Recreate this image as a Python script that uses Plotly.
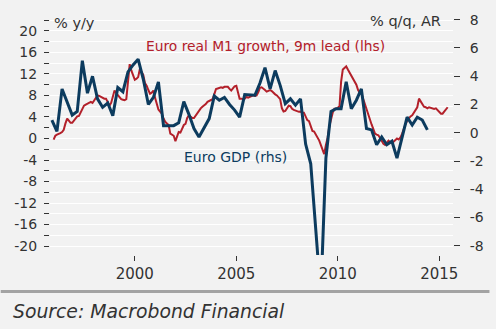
import plotly.graph_objects as go
import pandas as pd

# ---- Data ----
# Euro real M1 growth (% y/y, 9m lead), monthly from 1996-01 (left axis)
m1_start = "1996-01-01"
m1_values = [
    -0.2, 0.5, 0.7, 0.8, 1.0, 1.2, 1.6, 2.8, 3.7, 3.3, 2.9, 2.9,
    3.4, 3.8, 4.1, 4.2, 4.8, 5.3, 6.1, 6.3, 6.5, 6.7, 6.8, 6.6,
    7.1, 7.4, 8.0, 7.9, 7.7, 7.5, 7.4, 7.4, 6.8, 6.1, 6.6, 7.8,
    8.9, 8.4, 8.0, 7.6, 7.3, 7.2, 7.1, 7.3, 11.0, 13.8, 12.6, 11.6,
    10.9, 11.1, 11.4, 12.9, 12.4, 11.8, 10.3, 9.8, 9.0, 8.3, 8.5, 8.9,
    7.5, 6.3, 5.4, 5.0, 4.6, 3.7, 3.1, 2.8, 2.5, 0.9, 0.7, 0.5,
    -0.5, 0.6, 1.2, 1.1, 2.0, 2.5, 2.7, 3.8, 4.3, 4.1, 3.8, 3.8,
    4.3, 4.9, 5.1, 5.6, 5.9, 6.1, 6.4, 6.8, 7.0, 7.1, 7.3, 8.2,
    9.2, 9.3, 9.4, 9.5, 9.4, 9.6, 9.6, 9.6, 9.2, 8.9, 9.3, 9.7,
    9.8, 8.5, 7.4, 7.4, 7.3, 7.4, 7.7, 7.6, 7.7, 7.9, 8.0, 7.9,
    8.0, 8.6, 9.4, 9.5, 9.3, 9.0, 8.7, 8.8, 9.0, 8.8, 8.4, 8.2,
    8.0, 7.7, 7.3, 5.6, 5.0, 5.1, 5.6, 6.1, 6.0, 5.5, 5.3, 5.2,
    5.0, 4.95, 5.0, 4.8, 4.8, 4.2, 3.4, 3.2, 2.4, 1.4, 1.3, 0.8,
    0.1, -0.4, -1.2, -2.2, -2.9, -1.2, 0.1, 2.2, 3.6, 4.8, 5.5, 5.5,
    5.7, 6.0, 10.5, 12.8, 13.1, 13.4, 12.8, 12.2, 11.8, 11.0, 10.5, 10.0,
    9.0, 8.5, 8.4, 7.4, 6.5, 5.4, 4.5, 3.3, 2.6, 1.8, 0.9, 0.7,
    0.6, 0.1, -0.5, -1.0, -1.2, -0.8, -0.4, -0.7, -0.8, -0.6, -0.2, 0.0,
    -0.2, 0.2, 0.8, 1.8, 2.6, 3.3, 3.8, 4.1, 4.3, 4.8, 5.2, 5.8,
    7.4, 6.8, 6.3, 5.9, 5.8, 5.6, 5.8, 5.7, 5.7, 5.5, 5.6, 5.3,
    4.9, 4.6, 4.6, 5.0, 5.3, 5.8,
]

# Euro GDP (% q/q, annualised), quarterly from 1995Q4 (right axis)
gdp_start = "1995-12-01"
gdp_values = [
    0.9,
    0.1, 3.1, 2.2, 1.25,
    1.5, 5.1, 2.8, 4.0,
    2.4, 1.8, 2.1, 1.2,
    3.2, 2.9, 4.3, 4.8,
    5.2, 3.8, 2.0, 2.5,
    3.6, 0.5, 0.5, 0.5,
    0.7, 2.2, 1.3, 0.3,
    -0.3, 0.3, 1.0, 2.6,
    2.3, 2.5, 2.0, 1.6,
    1.1, 2.7, 2.7, 2.65,
    3.5, 4.6, 3.1, 4.4,
    3.35, 2.06, 2.4, 1.95,
    2.4, -0.8, -2.2, -7.0,
    -11.5, -1.8, 1.5, 1.7,
    1.7, 3.6, 1.7, 2.3,
    3.1, 0.3, 0.2, -0.85,
    -0.3, -0.85, -0.6, -1.8,
    -0.4, 1.1, 0.55, 1.1,
    0.9, 0.2,
]

left_ticks = [-20, -16, -12, -8, -4, 0, 4, 8, 12, 16, 20]
left_minor = [-18, -14, -10, -6, -2, 2, 6, 10, 14, 18, 22]
right_ticks = [-8, -6, -4, -2, 0, 2, 4, 6, 8]
x_ticks = ["2000-01-01", "2005-01-01", "2010-01-01", "2015-01-01"]
x_tick_text = ["2000", "2005", "2010", "2015"]

m1_dates = pd.date_range(m1_start, periods=len(m1_values), freq="MS")
gdp_dates = pd.date_range(gdp_start, periods=len(gdp_values), freq="3MS")

RED = "#b3202a"
BLUE = "#0c3b5e"
TXT = "#333333"
FONT = "DejaVu Sans"

fig = go.Figure()
fig.add_trace(go.Scatter(x=gdp_dates, y=gdp_values, yaxis="y2", mode="lines",
                         line=dict(color=BLUE, width=3), showlegend=False))
fig.add_trace(go.Scatter(x=m1_dates, y=m1_values, yaxis="y", mode="lines",
                         line=dict(color=RED, width=2), showlegend=False))

def lab(v):
    return str(v).replace("\u2212", "-")

fig.update_layout(
    width=496, height=329,
    margin=dict(l=50, r=37, t=12, b=74),
    paper_bgcolor="#f2f2f2", plot_bgcolor="#f2f2f2",
    font=dict(family=FONT, color=TXT),
    xaxis=dict(
        type="date", range=["1995-10-28", "2015-09-05"],
        tickvals=x_ticks, ticktext=x_tick_text,
        ticks="outside", ticklen=5, tickcolor=TXT, tickwidth=1,
        showgrid=False, zeroline=False, showline=False,
        tickfont=dict(size=15, color=TXT, family=FONT),
    ),
    yaxis=dict(
        range=[-21.65, 22.94],
        tickvals=left_ticks, ticktext=[lab(v) for v in left_ticks],
        ticks="outside", ticklen=5, tickcolor=TXT,
        showgrid=True, gridcolor="white", gridwidth=1,
        zeroline=False, showline=False,
        tickfont=dict(size=14, color=TXT, family=FONT),
        ticklabelstandoff=4,
        minor=dict(tickvals=left_minor, ticks="outside", ticklen=5,
                   tickcolor=TXT, showgrid=True, gridcolor="white", gridwidth=1),
    ),
    yaxis2=dict(
        overlaying="y", side="right", range=[-8.65, 8.33],
        tickvals=right_ticks, ticktext=[lab(v) for v in right_ticks],
        ticks="outside", ticklen=6, tickcolor=TXT,
        showgrid=False, zeroline=False, showline=False,
        tickfont=dict(size=14, color=TXT, family=FONT),
        ticklabelstandoff=7,
    ),
)

W = 496 - 50 - 37
H = 329 - 12 - 74
def px(X):
    return (X - 50) / W
def py(Y):
    return (255 - Y) / H

fig.add_annotation(x=px(52), y=py(20), xref="paper", yref="paper",
                   text="% y/y", showarrow=False, xanchor="left", yanchor="middle",
                   font=dict(size=14.5, color=TXT, family=FONT))
fig.add_annotation(x=px(449), y=py(18), xref="paper", yref="paper",
                   text="% q/q, AR", showarrow=False, xanchor="right", yanchor="middle",
                   font=dict(size=14.5, color=TXT, family=FONT))
fig.add_annotation(x=px(145), y=py(43), xref="paper", yref="paper",
                   text="Euro real M1 growth, 9m lead (lhs)", showarrow=False,
                   xanchor="left", yanchor="middle",
                   font=dict(size=13.8, color=RED, family=FONT))
fig.add_annotation(x=px(184), y=py(156), xref="paper", yref="paper",
                   text="Euro GDP (rhs)", showarrow=False,
                   xanchor="left", yanchor="middle",
                   font=dict(size=14, color=BLUE, family=FONT))
fig.add_annotation(x=px(10), y=py(312), xref="paper", yref="paper",
                   text="<i>Source: Macrobond Financial</i>", showarrow=False,
                   xanchor="left", yanchor="middle",
                   font=dict(size=18.8, color=TXT, family=FONT))
fig.add_shape(type="line", xref="paper", yref="paper",
              x0=px(0), x1=px(496), y0=py(292), y1=py(292),
              line=dict(color="#a3a3a3", width=3))

fig.write_html("out.html")
